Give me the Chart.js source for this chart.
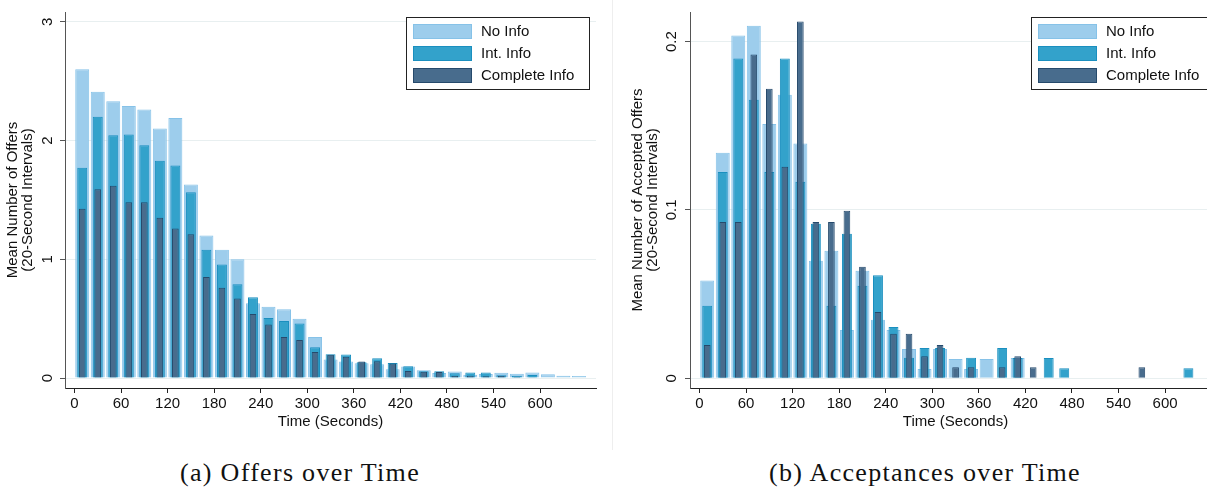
<!DOCTYPE html>
<html>
<head>
<meta charset="utf-8">
<script src="https://cdn.jsdelivr.net/npm/chart.js@4.4.1/dist/chart.umd.min.js"></script>
<style>
  body { margin: 0; width: 1207px; height: 489px; overflow: hidden; background: #fff; position: relative; }
  canvas { position: absolute; top: 0; }
  #offersChart { left: 0; }
  #acceptChart { left: 625px; }
  .divider { position: absolute; left: 612px; top: 0; width: 1px; height: 450px; background: #eeeeee; }
  .caption { position: absolute; top: 458px; font-family: "Liberation Serif", "Times New Roman", serif; font-size: 26px; letter-spacing: 1.3px; color: #111; transform: translateX(-50%); white-space: nowrap; }
</style>
</head>
<body>
<canvas id="offersChart" width="612" height="440"></canvas>
<canvas id="acceptChart" width="612" height="440"></canvas>
<div class="divider"></div>
<div class="caption" style="left:300px">(a) Offers over Time</div>
<div class="caption" style="left:925px">(b) Acceptances over Time</div>
<script>
//data
const bins = [10, 30, 50, 70, 90, 110, 130, 150, 170, 190, 210, 230, 250, 270, 290, 310, 330,
    350, 370, 390, 410, 430, 450, 470, 490, 510, 530, 550, 570, 590, 610, 630, 650];
const seriesNames = ['No Info', 'Int. Info', 'Complete Info'];

const offersNoInfo = [2.60, 2.41, 2.33, 2.29, 2.26, 2.10, 2.19, 1.63, 1.20, 1.08, 1.00, 0.63, 0.60, 0.58, 0.50, 0.345, 0.155,
    0.14, 0.125, 0.115, 0.073, 0.096, 0.065, 0.042, 0.054, 0.027, 0.033, 0.044, 0.037, 0.046, 0.031, 0.019, 0.018];
const offersIntInfo = [1.77, 2.20, 2.045, 2.05, 1.96, 1.83, 1.79, 1.565, 1.08, 0.955, 0.79, 0.68, 0.505, 0.48, 0.46, 0.26, 0.20,
    0.198, 0.132, 0.166, 0.126, 0.10, 0.058, 0.056, 0.041, 0.047, 0.047, 0.024, 0.016, 0.025, null, null, null];
const offersCompleteInfo = [1.425, 1.59, 1.62, 1.48, 1.48, 1.35, 1.26, 1.21, 0.85, 0.76, 0.67, 0.54, 0.45, 0.345, 0.32, 0.22, 0.196,
    0.18, 0.14, 0.142, 0.123, 0.06, 0.052, 0.05, 0.016, 0.02, 0.014, 0.016, 0.01, 0.006, null, null, null];

const acceptNoInfo = [0.058, 0.134, 0.2036, 0.2095, 0.151, 0.1685, 0.1395, 0.0698, 0.0757, 0.0287, 0.0638, 0.0347, 0.0287, 0.0174, 0.0055, 0.0174, 0.0115,
    0.0055, 0.0115, null, 0.012, null, null, null, null, null, null, null, null, null, null, null, null];
const acceptIntInfo = [0.043, 0.1225, 0.190, 0.1655, 0.1225, 0.190, 0.1167, 0.0918, 0.043, 0.0858, 0.0549, 0.0612, 0.0305, 0.0121, 0.018, 0.018, null,
    0.0121, null, 0.018, 0.012, null, 0.012, 0.006, null, null, null, null, null, null, null, 0.006, null];
const acceptCompleteInfo = [0.0198, 0.0928, 0.0928, 0.1923, 0.172, 0.1257, 0.2119, 0.0928, 0.0928, 0.0995, 0.0662, 0.0394, 0.0264, 0.0264, 0.0131, 0.0198, 0.0065,
    0.0065, null, 0.0065, 0.013, 0.0065, null, null, null, null, null, null, 0.0065, null, null, null, null];

//color
const fills = ['#9dcdec', '#33a2cb', '#486c8d'];
const borders = ['#86c2e8', '#1a8fbf', '#264a6c'];
const widths = [0.9, 0.64, 0.43];

const fontFamily = '"Liberation Sans", Arial, sans-serif';
const textColor = '#111';

// legend box drawn inside the plot, top right
const boxLegend = {
    id: 'boxLegend',
    afterDraw(chart) {
        const { ctx, chartArea: { top, right } } = chart;
        const x = Math.round(right - 190), y = Math.round(top + 5);
        ctx.save();
        ctx.fillStyle = '#fff';
        ctx.fillRect(x, y, 184, 73);
        ctx.strokeStyle = '#222';
        ctx.lineWidth = 1;
        ctx.strokeRect(x + 0.5, y + 0.5, 183, 72);
        ctx.font = `15px ${fontFamily}`;
        ctx.textBaseline = 'middle';
        chart.data.datasets.forEach((ds, i) => {
            const ry = y + 7 + i * 22;
            ctx.fillStyle = ds.backgroundColor;
            ctx.fillRect(x + 7, ry, 59, 15);
            ctx.strokeStyle = ds.borderColor;
            ctx.strokeRect(x + 7.5, ry + 0.5, 58, 14);
            ctx.fillStyle = textColor;
            ctx.fillText(ds.label, x + 75, ry + 8);
        });
        ctx.restore();
    }
};

// keep the plot area fixed, whatever the labels need
const fixAxis = (size) => (scale) => {
    if (scale.isHorizontal()) scale.height = size; else scale.width = size;
    scale.paddingTop = 0;
    scale.paddingBottom = 0;
    scale.paddingLeft = 0;
    scale.paddingRight = 0;
};

const barChart = (ctx, series, yTitle, yMin, yMax, yStep, tickPad) => {
    const datasets = series.map((values, i) => ({
        label: seriesNames[i],
        data: values,
        backgroundColor: fills[i],
        borderColor: borders[i],
        borderWidth: 1,
        barPercentage: widths[i],
        categoryPercentage: 1,
        grouped: false,
        order: 3 - i,
    }));

    const config = {
        type: 'bar',
        data: { labels: bins, datasets: datasets },
        options: {
            responsive: false,
            animation: false,
            layout: { padding: { top: 12, right: 16, left: 0, bottom: 0 } },
            scales: {
                x: {
                    type: 'linear',
                    offset: false,
                    min: -12.2,
                    max: 672,
                    afterFit: fixAxis(52),
                    afterBuildTicks: (scale) => { scale.ticks = scale.ticks.filter(t => t.value <= 600); },
                    border: { display: true, color: '#222', width: 1 },
                    grid: { offset: false, drawOnChartArea: false, tickLength: 5, tickColor: '#222' },
                    ticks: {
                        stepSize: 60,
                        includeBounds: false,
                        autoSkip: false,
                        maxRotation: 0,
                        padding: 2,
                        color: textColor,
                        font: { family: fontFamily, size: 15 },
                    },
                    title: {
                        display: true,
                        text: 'Time (Seconds)',
                        color: textColor,
                        padding: { top: 0, bottom: 9.5 },
                        font: { family: fontFamily, size: 15 },
                    },
                },
                y: {
                    min: yMin,
                    max: yMax,
                    afterFit: fixAxis(65),
                    border: { display: true, color: '#555', width: 1 },
                    grid: { color: '#e8eff0', tickLength: 5, tickColor: '#555' },
                    ticks: {
                        stepSize: yStep,
                        includeBounds: false,
                        minRotation: 90,
                        maxRotation: 90,
                        crossAlign: 'center',
                        padding: tickPad,
                        color: textColor,
                        font: { family: fontFamily, size: 15 },
                    },
                    title: {
                        display: true,
                        text: yTitle,
                        color: textColor,
                        padding: { top: 5.5, bottom: 0 },
                        font: { family: fontFamily, size: 15, lineHeight: 1 },
                    },
                },
            },
            plugins: {
                legend: { display: false },
                tooltip: { enabled: false },
            },
        },
        plugins: [boxLegend],
    };
    return new Chart(ctx, config);
};

//element
const ctxA = document.getElementById('offersChart');
const ctxB = document.getElementById('acceptChart');

const offersChart = barChart(ctxA, [offersNoInfo, offersIntInfo, offersCompleteInfo],
    ['Mean Number of Offers', '(20-Second Intervals)'], -0.084, 3.082, 1, 8);
const acceptChart = barChart(ctxB, [acceptNoInfo, acceptIntInfo, acceptCompleteInfo],
    ['Mean Number of Accepted Offers', '(20-Second Intervals)'], -0.0058, 0.2176, 0.1, 3);
</script>
</body>
</html>
